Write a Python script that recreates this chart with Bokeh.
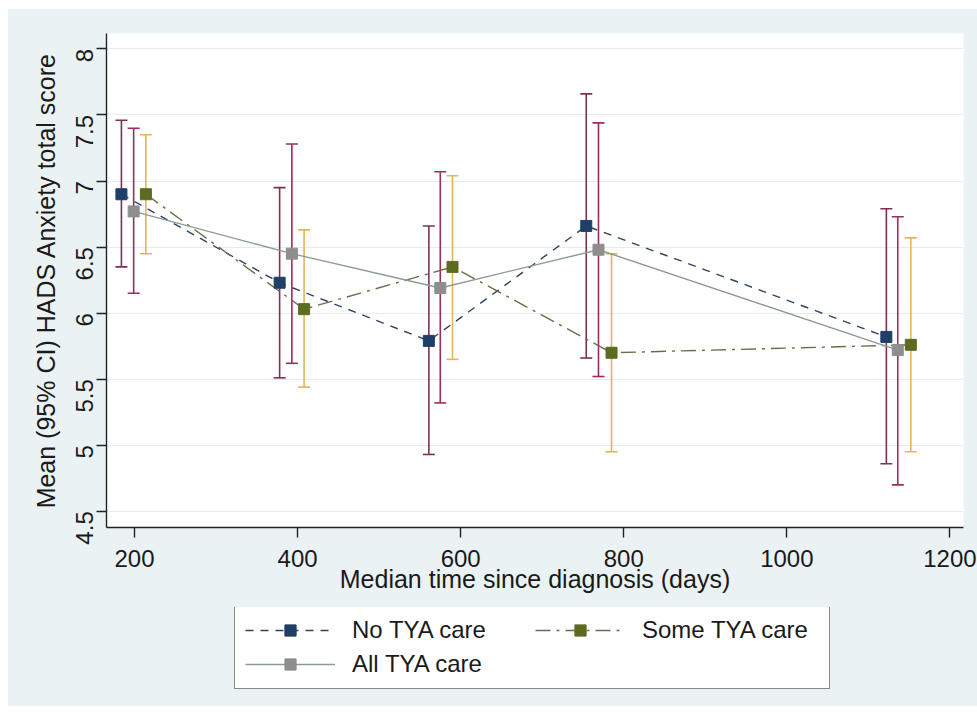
import math
from bokeh.plotting import figure
from bokeh.layouts import column
from bokeh.models import Range1d, FixedTicker, Legend, LegendItem
from bokeh.embed import file_html
from bokeh.resources import INLINE

# ---- data ----
series_names = ["No TYA care", "Some TYA care", "All TYA care"]

days_no = [184, 378, 561, 754, 1122]
mean_no = [6.90, 6.23, 5.79, 6.66, 5.82]
lo_no = [6.35, 5.51, 4.93, 5.66, 4.86]
hi_no = [7.46, 6.95, 6.66, 7.66, 6.79]

days_some = [214, 408, 590, 785, 1152]
mean_some = [6.90, 6.03, 6.35, 5.70, 5.76]
lo_some = [6.45, 5.44, 5.65, 4.95, 4.95]
hi_some = [7.35, 6.63, 7.04, 6.45, 6.57]

days_all = [199, 393, 575, 769, 1136]
mean_all = [6.77, 6.45, 6.19, 6.48, 5.72]
lo_all = [6.15, 5.62, 5.32, 5.52, 4.70]
hi_all = [7.40, 7.28, 7.07, 7.44, 6.73]

x_ticks = [200, 400, 600, 800, 1000, 1200]
y_ticks = [4.5, 5, 5.5, 6, 6.5, 7, 7.5, 8]
y_tick_labels = ["4.5", "5", "5.5", "6", "6.5", "7", "7.5", "8"]

x_title = "Median time since diagnosis (days)"
y_title = "Mean (95% CI) HADS Anxiety total score"

# ---- styling ----
FONT = "Liberation Sans"
BG = "#EAF2F3"
TXT = "#1a1a1a"

p = figure(width=969, height=598, output_backend="svg", toolbar_location=None,
           x_range=Range1d(165.7, 1216.6), y_range=Range1d(4.377, 8.117),
           min_border_left=98, min_border_right=14, min_border_top=24,
           min_border_bottom=80)
p.background_fill_color = "white"
p.border_fill_color = BG
p.outline_line_color = None

p.xgrid.grid_line_color = None
p.ygrid.grid_line_color = "#E4ECEE"
p.ygrid.grid_line_width = 1.2
p.ygrid.ticker = FixedTicker(ticks=y_ticks)

p.xaxis.ticker = FixedTicker(ticks=x_ticks)
p.yaxis.ticker = FixedTicker(ticks=y_ticks)
p.yaxis.major_label_overrides = {v: s for v, s in zip(y_ticks, y_tick_labels)}
p.yaxis.major_label_orientation = math.pi / 2

for ax in (p.xaxis[0], p.yaxis[0]):
    ax.axis_line_color = "#222222"
    ax.axis_line_width = 1.4
    ax.major_tick_line_color = "#222222"
    ax.major_tick_line_width = 1.4
    ax.major_tick_out = 10
    ax.major_tick_in = 0
    ax.minor_tick_line_color = None
    ax.major_label_text_font = FONT
    ax.major_label_text_font_size = "24px"
    ax.major_label_text_color = TXT
    ax.axis_label_text_font = FONT
    ax.axis_label_text_font_size = "25px"
    ax.axis_label_text_font_style = "normal"
    ax.axis_label_text_color = TXT

p.xaxis.axis_label = x_title
p.yaxis.axis_label = y_title
p.xaxis.major_label_standoff = 12
p.xaxis.axis_label_standoff = -5
p.yaxis.major_label_standoff = 12
p.yaxis.axis_label_standoff = 5

# ---- series ----
specs = [
    (days_no, mean_no, lo_no, hi_no, "#1F3F66", "#2E4560", "8 7", "#7C3152"),
    (days_some, mean_some, lo_some, hi_some, "#5C6B1F", "#6A6E48", "15 6 3 6", "#E2B45C"),
    (days_all, mean_all, lo_all, hi_all, "#8E8E8E", "#8A9A96", "solid", "#9A2C5E"),
]

# CIs first (beneath)
for d, m, lo, hi, mc, lc, dash, cic in specs:
    p.segment(x0=d, y0=lo, x1=d, y1=hi, line_color=cic, line_width=1.6)
    p.scatter(x=d, y=lo, marker="dash", size=12, line_color=cic, line_width=1.6)
    p.scatter(x=d, y=hi, marker="dash", size=12, line_color=cic, line_width=1.6)

for d, m, lo, hi, mc, lc, dash, cic in specs:
    p.line(x=d, y=m, line_color=lc, line_width=1.4, line_dash=dash)

for d, m, lo, hi, mc, lc, dash, cic in specs:
    p.scatter(x=d, y=m, marker="square", size=11, fill_color=mc, line_color=mc)

# ---- legend strip (separate figure beneath, same background) ----
p2 = figure(width=969, height=99, output_backend="svg", toolbar_location=None,
            x_axis_type=None, y_axis_type=None,
            x_range=Range1d(0, 1), y_range=Range1d(0, 1),
            min_border_left=0, min_border_right=0, min_border_top=0,
            min_border_bottom=0)
p2.background_fill_color = BG
p2.border_fill_color = BG
p2.outline_line_color = None

NAN = float("nan")
leg_items = {}
for (d, m, lo, hi, mc, lc, dash, cic), name in zip(specs, series_names):
    lr = p2.line(x=[NAN], y=[NAN], line_color=lc, line_width=1.4, line_dash=dash)
    sr = p2.scatter(x=[NAN], y=[NAN], marker="square", size=11, fill_color=mc, line_color=mc)
    leg_items[name] = LegendItem(label=name, renderers=[lr, sr])

# column-major fill: col 1 = No / All, col 2 = Some
order = [series_names[0], series_names[2], series_names[1]]
legend = Legend(items=[leg_items[n] for n in order], ncols=2, location=(128, 17))
legend.margin = 0
legend.padding = 10
legend.spacing = 6
legend.glyph_width = 90
legend.glyph_height = 28
legend.label_height = 28
legend.label_width = 177
legend.label_standoff = 17
legend.label_text_font = FONT
legend.label_text_font_size = "24px"
legend.label_text_color = TXT
legend.border_line_color = "#111111"
legend.border_line_width = 1.3
legend.background_fill_color = "white"
legend.background_fill_alpha = 1.0
p2.add_layout(legend)

layout = column(p, p2, spacing=0)
layout.margin = (9, 0, 0, 8)
layout.styles = {"background-color": BG}
open("out.html", "w").write(file_html(layout, INLINE))
